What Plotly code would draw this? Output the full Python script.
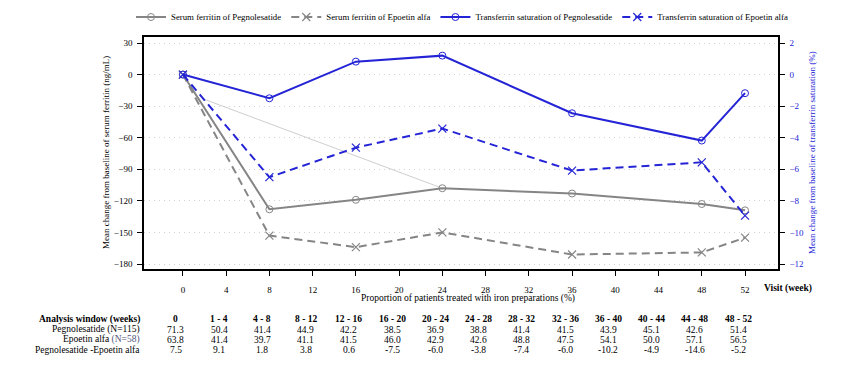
import plotly.graph_objects as go

# ---- data ----
visits = [0, 8, 16, 24, 36, 48, 52]
ferritin_peg = [0, -128, -119, -108, -113, -123, -129]
ferritin_epo = [0, -153, -164, -150, -171, -169, -155]
tsat_peg = [0, -1.5, 0.82, 1.2, -2.45, -4.18, -1.18]
tsat_epo = [0, -6.5, -4.63, -3.42, -6.08, -5.56, -8.94]
aux_x = [1.85, 24]
aux_y = [-23, -108]

x_ticks = list(range(0, 53, 4))
windows = ["0", "1 - 4", "4 - 8", "8 - 12", "12 - 16", "16 - 20", "20 - 24",
           "24 - 28", "28 - 32", "32 - 36", "36 - 40", "40 - 44", "44 - 48", "48 - 52"]
pct_peg = ["71.3", "50.4", "41.4", "44.9", "42.2", "38.5", "36.9", "38.8", "41.4",
           "41.5", "43.9", "45.1", "42.6", "51.4"]
pct_epo = ["63.8", "41.4", "39.7", "41.1", "41.5", "46.0", "42.9", "42.6", "48.8",
           "47.5", "54.1", "50.0", "57.1", "56.5"]
pct_diff = ["7.5", "9.1", "1.8", "3.8", "0.6", "-7.5", "-6.0", "-3.8", "-7.4",
            "-6.0", "-10.2", "-4.9", "-14.6", "-5.2"]
row_labels = ["<b>Analysis window (weeks)</b>", "Pegnolesatide (N=115)",
              "Epoetin alfa <span style='color:#55557a'>(N=58)</span>",
              "Pegnolesatide -Epoetin alfa"]

GRAY = "#858585"
BLUE = "#2424d6"
FONT = "Liberation Serif, Times New Roman, serif"

fig = go.Figure()
fig.add_trace(go.Scatter(x=aux_x, y=aux_y, mode="lines", line=dict(color="#cfcfcf", width=1),
                         showlegend=False, hoverinfo="skip"))
fig.add_trace(go.Scatter(x=visits, y=ferritin_peg, mode="lines+markers",
                         name="Serum ferritin of Pegnolesatide",
                         line=dict(color=GRAY, width=2),
                         marker=dict(symbol="circle-open", size=7, color=GRAY, line=dict(width=1))))
fig.add_trace(go.Scatter(x=visits, y=ferritin_epo, mode="lines+markers",
                         name="Serum ferritin of Epoetin alfa",
                         line=dict(color=GRAY, width=2, dash="8px,5px"),
                         marker=dict(symbol="x-thin-open", size=8, color=GRAY, line=dict(width=1.2, color=GRAY))))
fig.add_trace(go.Scatter(x=visits, y=tsat_peg, mode="lines+markers", yaxis="y2",
                         name="Transferrin saturation of Pegnolesatide",
                         line=dict(color=BLUE, width=2),
                         marker=dict(symbol="circle-open", size=7, color=BLUE, line=dict(width=1))))
fig.add_trace(go.Scatter(x=visits, y=tsat_epo, mode="lines+markers", yaxis="y2",
                         name="Transferrin saturation of Epoetin alfa",
                         line=dict(color=BLUE, width=2, dash="8px,5px"),
                         marker=dict(symbol="x-thin-open", size=8, color=BLUE, line=dict(width=1.2, color=BLUE))))

PLOT_TOP, PLOT_BOTTOM, PLOT_LEFT, PLOT_RIGHT = 37, 269, 144, 778
H = PLOT_BOTTOM - PLOT_TOP
W = PLOT_RIGHT - PLOT_LEFT

def py(ypx):
    return (PLOT_BOTTOM - ypx) / H

def px(xpx):
    return (xpx - PLOT_LEFT) / W

annotations = []
row_y = [319, 329.5, 339.5, 349.5]
rows = [windows, pct_peg, pct_epo, pct_diff]
for r, (yy, vals) in enumerate(zip(row_y, rows)):
    annotations.append(dict(text=row_labels[r], xref="paper", yref="paper", x=px(142), y=py(yy),
                            xanchor="right", yanchor="middle", showarrow=False,
                            font=dict(family=FONT, size=9.5, color="black")))
    for xv, v in zip(x_ticks, vals):
        annotations.append(dict(text=("<b>%s</b>" % v) if r == 0 else v, xref="x", yref="paper",
                                x=xv - 0.65, y=py(yy), xanchor="center", yanchor="middle",
                                showarrow=False, font=dict(family=FONT, size=9.5, color="black")))

annotations.append(dict(text="Proportion of patients treated with iron preparations (%)",
                        xref="paper", yref="paper", x=px(468), y=py(298), xanchor="center",
                        yanchor="middle", showarrow=False, font=dict(family=FONT, size=9.5, color="black")))
annotations.append(dict(text="<b>Visit (week)</b>", xref="paper", yref="paper", x=px(762), y=py(288),
                        xanchor="left", yanchor="middle", showarrow=False,
                        font=dict(family=FONT, size=9.5, color="black")))
annotations.append(dict(text="Mean change from baseline of serum ferritin (ng/mL)", xref="paper",
                        yref="paper", x=px(106), y=0.5, textangle=-90, xanchor="center",
                        yanchor="middle", showarrow=False, font=dict(family=FONT, size=9, color="black")))
annotations.append(dict(text="Mean change from baseline of transferrin saturation (%)", xref="paper",
                        yref="paper", x=px(812), y=0.5, textangle=-90, xanchor="center",
                        yanchor="middle", showarrow=False, font=dict(family=FONT, size=9, color=BLUE)))

fig.update_layout(
    width=855, height=381,
    margin=dict(l=PLOT_LEFT, r=855 - PLOT_RIGHT, t=PLOT_TOP, b=381 - PLOT_BOTTOM, autoexpand=False),
    paper_bgcolor="white", plot_bgcolor="white",
    font=dict(family=FONT, size=9, color="black"),
    xaxis=dict(range=[-3.6, 55.05], tickvals=x_ticks, ticks="outside", ticklen=5,
               tickcolor="black", showline=True, linecolor="black", linewidth=1.5, mirror=True,
               showgrid=False, zeroline=False, ticklabelstandoff=6,
               tickfont=dict(family=FONT, size=9, color="black")),
    yaxis=dict(range=[-184.75, 35.7], tickvals=[30, 0, -30, -60, -90, -120, -150, -180],
               ticks="outside", ticklen=5, tickcolor="black", showline=True, linecolor="black",
               linewidth=1.5, mirror=True, showgrid=True, gridcolor="#d2d2d2", griddash="1px,4px",
               gridwidth=1, zeroline=False, ticklabelstandoff=3,
               tickfont=dict(family=FONT, size=9, color="black")),
    yaxis2=dict(range=[-184.75 / 15, 35.7 / 15], tickvals=[2, 0, -2, -4, -6, -8, -10, -12],
                overlaying="y", side="right", ticks="outside", ticklen=5, tickcolor="black",
                showline=True, linecolor="black", linewidth=1.5, showgrid=False, zeroline=False,
                ticklabelstandoff=3, tickfont=dict(family=FONT, size=9, color=BLUE)),
    legend=dict(orientation="h", x=px(131), xanchor="left", y=py(17), yanchor="middle",
                font=dict(family=FONT, size=8.8, color="black"), bgcolor="rgba(0,0,0,0)",
                itemwidth=30, tracegroupgap=0),
    annotations=annotations,
    showlegend=True,
)

fig.write_html("out.html", config={"displayModeBar": False},
               post_script="document.body.style.margin='0';document.body.style.padding='0';")
